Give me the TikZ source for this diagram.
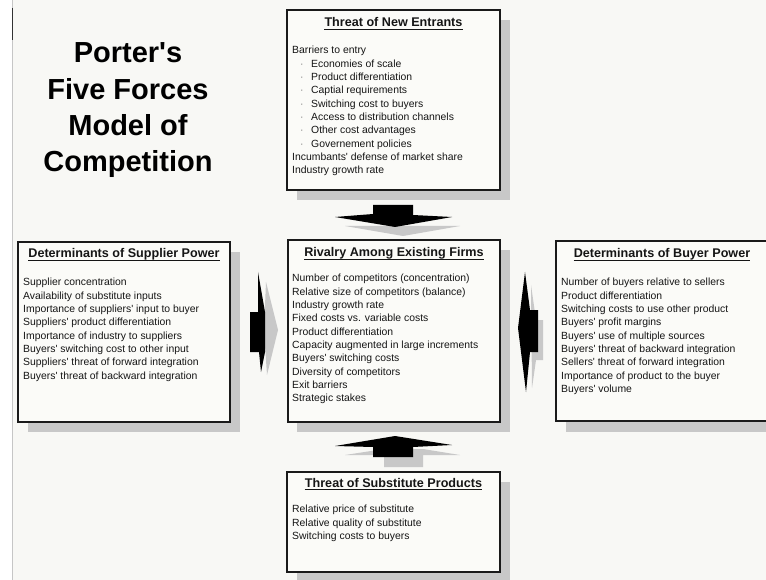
\documentclass[tikz,border=0pt]{standalone}
\usepackage{fontspec}
\setmainfont{Liberation Sans}[Ligatures=TeXOff]
\definecolor{bgc}{HTML}{F8F8F5}
\definecolor{boxfill}{HTML}{FBFBF8}
\definecolor{shadowc}{HTML}{C8C8C8}
\definecolor{textc}{HTML}{151515}
\definecolor{linec}{HTML}{1A1A1A}
\tikzset{
  panel/.style={draw=linec, line width=1.4pt, fill=boxfill},
  panelshadow/.style={fill=shadowc, draw=none},
  heading/.style={font=\fontsize{12.6}{15}\selectfont\bfseries, inner sep=0pt, text=textc, anchor=base},
  bodytext/.style={font=\fontsize{10.4}{13.33}\selectfont, inner sep=0pt, align=left, anchor=north west, text=textc},
  uline/.style={line width=1.1pt, draw=textc},
  titletext/.style={font=\fontsize{29}{36}\selectfont\bfseries, inner sep=0pt, anchor=base, text=black},
  arrowblack/.style={fill=black, draw=none},
  arrowgrey/.style={fill=shadowc, draw=none}
}
\newcommand{\ind}[1]{\makebox[19pt][l]{\hspace*{8pt}{\color{gray}·}}#1}
\newcommand{\ulhead}[1]{\draw[uline] ([yshift=-2.6pt]#1.base west) -- ([yshift=-2.6pt]#1.base east);}
\begin{document}
\begin{tikzpicture}[x=1pt,y=-1pt]
\useasboundingbox (0,0) rectangle (766,580);
\fill[bgc] (0,0) rectangle (766,580);
\fill[white] (0,0) rectangle (12,580);
\draw[gray!45, line width=0.8pt] (12,0) -- (12,580);
\draw[black!80, line width=0.9pt] (12,8) -- (12,40);

% title
\node[titletext] (t1) at (128,63) {Porter's};
\node[titletext] (t2) at (128,99.5) {Five Forces};
\node[titletext] (t3) at (128,136) {Model of};
\node[titletext] (t4) at (128,172) {Competition};

% shadows
\fill[panelshadow] (297,20) rectangle (510,200);
\fill[panelshadow] (28,252) rectangle (240,432);
\fill[panelshadow] (297,250) rectangle (510,432);
\fill[panelshadow] (566,252) rectangle (790,432);
\fill[panelshadow] (297,482) rectangle (510,585);

% panels
\draw[panel] (287,10) rectangle (500,190);
\draw[panel] (18,242) rectangle (230,422);
\draw[panel] (288,240) rectangle (500,422);
\draw[panel] (556,241) rectangle (790,421);
\draw[panel] (287,472) rectangle (500,572);

% top: new entrants
\node[heading] (hNew) at (393.5,26.5) {Threat of New Entrants};
\ulhead{hNew}
\node[bodytext] (bNew) at (292,44.2) {\strut Barriers to entry\\
\ind{Economies of scale}\\
\ind{Product differentiation}\\
\ind{Captial requirements}\\
\ind{Switching cost to buyers}\\
\ind{Access to distribution channels}\\
\ind{Other cost advantages}\\
\ind{Governement policies}\\
Incumbants' defense of market share\\
Industry growth rate};

% left: supplier power
\node[heading] (hSup) at (124,258) {Determinants of Supplier Power};
\ulhead{hSup}
\node[bodytext] (bSup) at (23,276.2) {\strut Supplier concentration\\
Availability of substitute inputs\\
Importance of suppliers' input to buyer\\
Suppliers' product differentiation\\
Importance of industry to suppliers\\
Buyers' switching cost to other input\\
Suppliers' threat of forward integration\\
Buyers' threat of backward integration};

% center: rivalry
\node[heading] (hRiv) at (394,257) {Rivalry Among Existing Firms};
\ulhead{hRiv}
\node[bodytext] (bRiv) at (292,272.2) {\strut Number of competitors (concentration)\\
Relative size of competitors (balance)\\
Industry growth rate\\
Fixed costs vs. variable costs\\
Product differentiation\\
Capacity augmented in large increments\\
Buyers' switching costs\\
Diversity of competitors\\
Exit barriers\\
Strategic stakes};

% right: buyer power
\node[heading] (hBuy) at (662,258) {Determinants of Buyer Power};
\ulhead{hBuy}
\node[bodytext] (bBuy) at (561,276.2) {\strut Number of buyers relative to sellers\\
Product differentiation\\
Switching costs to use other product\\
Buyers' profit margins\\
Buyers' use of multiple sources\\
Buyers' threat of backward integration\\
Sellers' threat of forward integration\\
Importance of product to the buyer\\
Buyers' volume};

% bottom: substitutes
\node[heading] (hSub) at (393.5,487) {Threat of Substitute Products};
\ulhead{hSub}
\node[bodytext] (bSub) at (292,503.2) {\strut Relative price of substitute\\
Relative quality of substitute\\
Switching costs to buyers};

% down arrow (top)
\fill[arrowgrey] (345,226) -- (460,226) -- (403,236) -- cycle;
\fill[arrowblack] (373,205) -- (413,205) -- (413,215) -- (452,217) -- (395,227) -- (335,217) -- (373,214) -- cycle;

% up arrow (bottom)
\fill[arrowgrey] (345,455) -- (384,449) -- (423,449) -- (460,455) -- (423,455) -- (423,467) -- (384,467) -- (384,455) -- cycle;
\fill[arrowblack] (395,436) -- (452,445) -- (413,447) -- (413,457) -- (373,457) -- (373,447) -- (335,446) -- cycle;

% right-pointing arrow (left)
\fill[arrowgrey] (266,282) -- (278,330) -- (267,375) -- (264,330) -- cycle;
\fill[arrowblack] (258,272) -- (265,312) -- (265,352) -- (261,372) -- (259,352) -- (250,352) -- (250,312) -- (258,312) -- cycle;

% left-pointing arrow (right)
\fill[arrowgrey] (531,285) -- (536,320) -- (543,320) -- (543,360) -- (536,360) -- (532,388) -- cycle;
\fill[arrowblack] (525,272) -- (530,310) -- (538,310) -- (538,352) -- (530,352) -- (526,392) -- (518,328) -- cycle;
\end{tikzpicture}
\end{document}
